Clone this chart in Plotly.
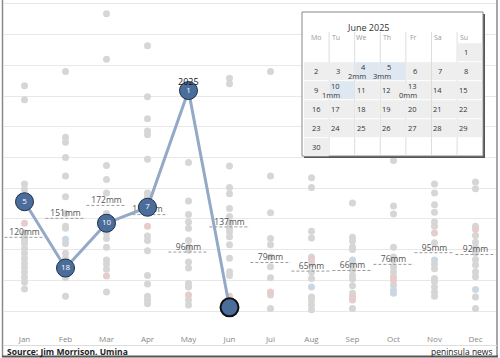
import calendar
import plotly.graph_objects as go

months = ["Jan", "Feb", "Mar", "Apr", "May", "Jun", "Jul", "Aug", "Sep", "Oct", "Nov", "Dec"]

# historical monthly rainfall (mm), one dot per year
hist_jan = [367, 344, 207, 198, 127, 120, 115, 110, 102, 94, 86, 78, 71, 63, 55, 47, 36]
hist_feb = [390, 283, 275, 250, 220, 186, 159, 138, 135, 110, 94, 86, 54, 24]
hist_mar = [484, 410, 237, 214, 192, 159, 133, 127, 118, 104, 83, 76, 68, 31]
hist_apr = [432, 349, 313, 293, 287, 247, 192, 186, 122, 115, 98, 58, 44, 24, 18, 12]
hist_may = [242, 179, 157, 145, 135, 115, 104, 99, 80, 70, 45, 39, 18, 10]
hist_jun = [379, 370, 236, 201, 191, 167, 154, 143, 134, 129, 121, 108, 86, 64, 58]
hist_jul = [390, 220, 160, 118, 108, 88, 72, 54, 26, 4]
hist_aug = [217, 201, 130, 119, 88, 77, 63, 53, 23, 18, 10, 2]
hist_sep = [176, 120, 114, 104, 100, 76, 67, 58, 52, 41, 29, 4]
hist_oct = [245, 171, 158, 104, 88, 83, 72, 64, 42]
hist_nov = [207, 192, 173, 161, 145, 138, 111, 76, 69, 53, 48, 39, 31, 24]
hist_dec = [210, 199, 138, 123, 112, 103, 95, 84, 75, 64, 56, 23, 4]

red_month = ["Jan", "Mar", "Apr", "May", "Jun", "Jul", "Aug", "Sep", "Sep", "Oct", "Oct", "Nov", "Dec"]
red_value = [143, 57, 138, 26, 24, 31, 84, 23, 18, 56, 50, 127, 133]
blue_month = ["Feb", "Aug", "Sep", "Oct", "Oct", "Nov", "Dec"]
blue_value = [117, 39, 83, 34, 29, 83, 35]

avg_mm = [120, 151, 172, 157, 96, 137, 79, 65, 66, 76, 95, 92]

y2025_months = ["Jan", "Feb", "Mar", "Apr", "May", "Jun"]
y2025_values = [178, 70, 143, 169, 359, 6]
y2025_ranks = ["5", "18", "10", "7", "1", ""]

cal_year, cal_month = 2025, 6
cal_title = "June 2025"
cal_daynames = ["Mo", "Tu", "We", "Th", "Fr", "Sa", "Su"]
cal_rain_days = [4, 5, 10, 13]
cal_rain_mm = [2, 3, 1, 0]

source_text = "Source: Jim Morrison. Umina"
brand_text = "peninsula news"

W, H = 500, 358
ML, MR, MT, MB = 4, 4, 0, 28
PW, PH = W - ML - MR, H - MT - MB
FONT = "Open Sans"


def xp(px):
    return (px - ML) / PW


def yp(py):
    return (H - MB - py) / PH


hist_all = [hist_jan, hist_feb, hist_mar, hist_apr, hist_may, hist_jun,
            hist_jul, hist_aug, hist_sep, hist_oct, hist_nov, hist_dec]
mi = {m: i for i, m in enumerate(months)}

fig = go.Figure()

hx, hy = [], []
for i, vals in enumerate(hist_all):
    hx += [i] * len(vals)
    hy += vals
fig.add_trace(go.Scatter(x=hx, y=hy, mode="markers",
                         marker=dict(size=7, color="#d6d6d6"), hoverinfo="skip"))
fig.add_trace(go.Scatter(x=[mi[m] for m in red_month], y=red_value, mode="markers",
                         marker=dict(size=7, color="#e6cccc"), hoverinfo="skip"))
fig.add_trace(go.Scatter(x=[mi[m] for m in blue_month], y=blue_value, mode="markers",
                         marker=dict(size=7, color="#ccd7e4"), hoverinfo="skip"))

# average dashed lines
ax, ay = [], []
for i, v in enumerate(avg_mm):
    ax += [i - 0.49, i + 0.49, None]
    ay += [v, v, None]
fig.add_trace(go.Scatter(x=ax, y=ay, mode="lines",
                         line=dict(color="#9a9a9a", width=1, dash="3px,2px"), hoverinfo="skip"))
fig.add_trace(go.Scatter(x=list(range(12)), y=avg_mm, mode="text",
                         text=[f"{v}mm" for v in avg_mm], textposition="top center",
                         textfont=dict(size=8.5, color="#555555", family=FONT),
                         hoverinfo="skip"))

# 2025 line
x25 = [mi[m] for m in y2025_months]
fig.add_trace(go.Scatter(x=x25, y=y2025_values, mode="lines",
                         line=dict(color="#93a9c6", width=3), hoverinfo="skip"))
fig.add_trace(go.Scatter(x=x25[:-1], y=y2025_values[:-1], mode="markers+text",
                         text=y2025_ranks[:-1], textposition="middle center",
                         textfont=dict(size=8, color="white", family=FONT),
                         marker=dict(size=18, color="#4a6d9c", line=dict(color="#1d2f47", width=1)),
                         hoverinfo="skip"))
fig.add_trace(go.Scatter(x=x25[-1:], y=y2025_values[-1:], mode="markers",
                         marker=dict(size=18, color="#4a6d9c", line=dict(color="#111111", width=2)),
                         hoverinfo="skip"))

annotations = []
imax = y2025_values.index(max(y2025_values))
annotations.append(dict(x=x25[imax], y=y2025_values[imax], text="2025", showarrow=False,
                        yshift=9, font=dict(size=9, color="#111111", family=FONT)))

shapes = []
# frame
shapes.append(dict(type="line", xref="paper", yref="paper", x0=xp(2.5), x1=xp(2.5), y0=yp(0), y1=yp(357),
                   line=dict(color="#8a8a8a", width=1.5)))
shapes.append(dict(type="line", xref="paper", yref="paper", x0=xp(497), x1=xp(497), y0=yp(0), y1=yp(357),
                   line=dict(color="#8a8a8a", width=1.5)))
shapes.append(dict(type="line", xref="paper", yref="paper", x0=xp(2), x1=xp(498), y0=yp(356.5), y1=yp(356.5),
                   line=dict(color="#555555", width=2)))
shapes.append(dict(type="line", xref="paper", yref="paper", x0=xp(3), x1=xp(497), y0=yp(345.5), y1=yp(345.5),
                   line=dict(color="#dddddd", width=1)))
annotations.append(dict(xref="paper", yref="paper", x=xp(5), y=yp(351.5), text="<b>" + source_text + "</b>",
                        showarrow=False, xanchor="left", yanchor="middle",
                        font=dict(size=8.5, color="#222222", family=FONT)))
annotations.append(dict(xref="paper", yref="paper", x=xp(495), y=yp(351), text=brand_text,
                        showarrow=False, xanchor="right", yanchor="middle",
                        font=dict(size=8.5, color="#222222", family=FONT)))

# calendar
bx0, bx1, by0, by1 = 302, 483, 12, 156
shapes.append(dict(type="rect", xref="paper", yref="paper", layer="above",
                   x0=xp(bx0 + 2), x1=xp(bx1 + 2), y0=yp(by0 + 2), y1=yp(by1 + 2),
                   fillcolor="#555555", line=dict(width=0)))
shapes.append(dict(type="rect", xref="paper", yref="paper", layer="above",
                   x0=xp(bx0), x1=xp(bx1), y0=yp(by0), y1=yp(by1),
                   fillcolor="white", line=dict(color="#888888", width=1)))
annotations.append(dict(xref="paper", yref="paper", x=xp(391), y=yp(28), text=cal_title, showarrow=False,
                        yanchor="middle", font=dict(size=9, color="#333333", family=FONT)))
cw = 25.6
cx0 = 303.5
rt0, rh = 42.7, 19.0
weeks = calendar.Calendar(firstweekday=0).monthdayscalendar(cal_year, cal_month)
rain = dict(zip(cal_rain_days, cal_rain_mm))
for c, dn in enumerate(cal_daynames):
    annotations.append(dict(xref="paper", yref="paper", x=xp(cx0 + cw * (c + 0.5)), y=yp(37.5), text=dn,
                            showarrow=False, yanchor="middle",
                            font=dict(size=7, color="#999999", family=FONT)))
    if c > 0:
        shapes.append(dict(type="line", xref="paper", yref="paper", layer="above",
                           x0=xp(cx0 + cw * c), x1=xp(cx0 + cw * c), y0=yp(32), y1=yp(by1 - 0.5),
                           line=dict(color="#dddddd", width=1)))
for r, wk in enumerate(weeks):
    for c, d in enumerate(wk):
        if d == 0:
            continue
        fill = "#dfe7f1" if (d in rain and rain[d] > 0) else "#eeeeee"
        shapes.append(dict(type="rect", xref="paper", yref="paper", layer="above",
                           x0=xp(cx0 + cw * c + 0.5), x1=xp(cx0 + cw * (c + 1) - 0.5),
                           y0=yp(rt0 + rh * r + 0.5), y1=yp(rt0 + rh * (r + 1) - 0.5),
                           fillcolor=fill, line=dict(width=0)))
        cxm = xp(cx0 + cw * (c + 0.5))
        cym = rt0 + rh * (r + 0.5)
        if d in rain:
            annotations.append(dict(xref="paper", yref="paper", x=cxm, y=yp(cym - 4.2), text=f"{d}",
                                    showarrow=False, yanchor="middle",
                                    font=dict(size=7.5, color="#333333", family=FONT)))
            annotations.append(dict(xref="paper", yref="paper", x=cxm, y=yp(cym + 4.6), text=f"{rain[d]}mm",
                                    showarrow=False, yanchor="middle",
                                    font=dict(size=7.5, color="#333333", family=FONT)))
        else:
            annotations.append(dict(xref="paper", yref="paper", x=cxm, y=yp(cym), text=f"{d}",
                                    showarrow=False, yanchor="middle",
                                    font=dict(size=7.5, color="#333333", family=FONT)))

fig.update_layout(
    width=W, height=H, margin=dict(l=ML, r=MR, t=MT, b=MB),
    paper_bgcolor="white", plot_bgcolor="white", showlegend=False,
    xaxis=dict(range=[-0.5, 11.5], tickmode="array", tickvals=list(range(12)), ticktext=months,
               showgrid=False, zeroline=False, showline=False, ticks="", ticklabelstandoff=3,
               tickfont=dict(size=8, color="#888888", family=FONT)),
    yaxis=dict(range=[-30.9, 506.5], tick0=0, dtick=50, showgrid=True, gridcolor="#e8e8e8",
               gridwidth=1, zeroline=False, showticklabels=False, showline=False),
    shapes=shapes, annotations=annotations,
)
fig.write_html("out.html", config={"displayModeBar": False},
               post_script="document.body.style.margin='0';document.body.style.overflow='hidden';")
